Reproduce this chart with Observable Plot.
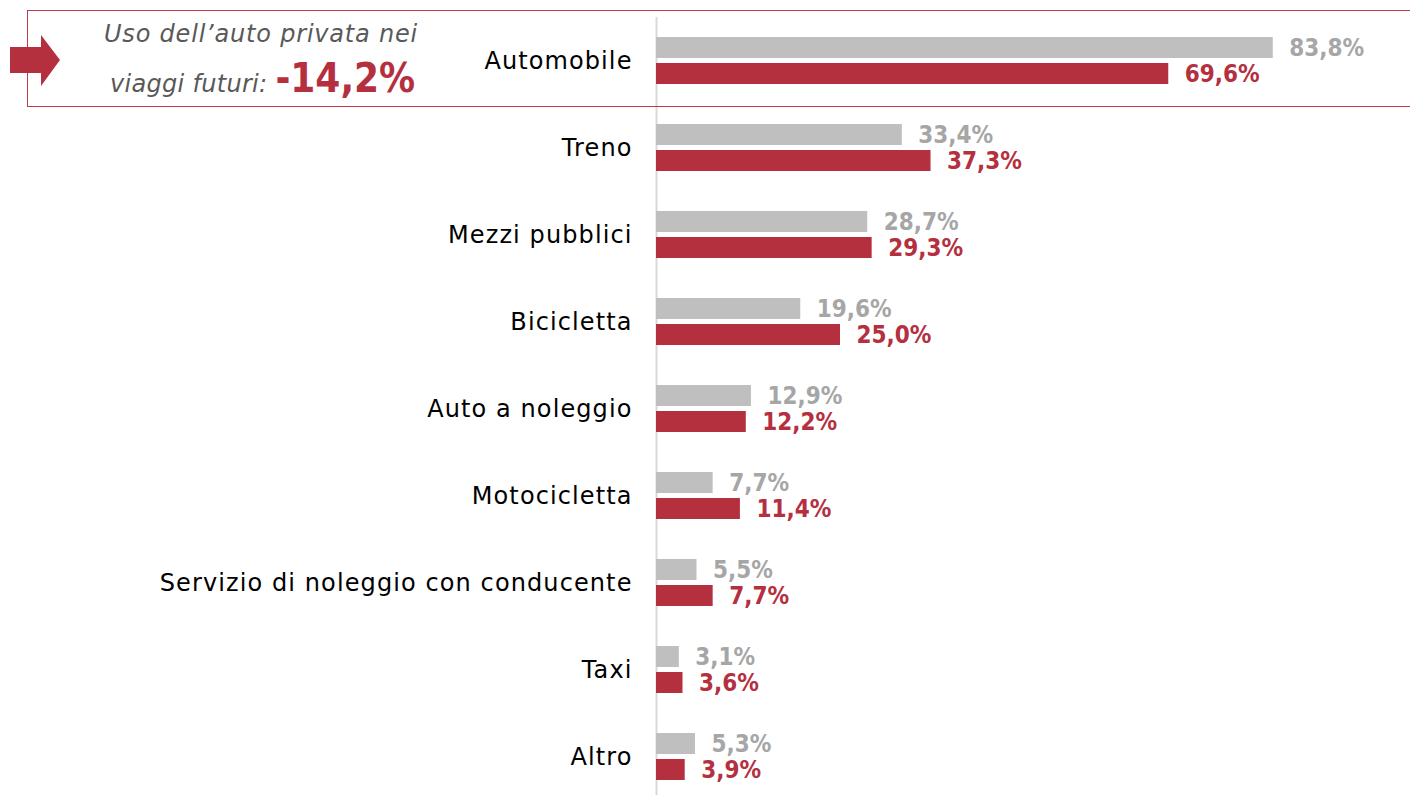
<!DOCTYPE html>
<html>
<head>
<meta charset="utf-8">
<script src="https://cdn.jsdelivr.net/npm/d3@7"></script>
<script src="https://cdn.jsdelivr.net/npm/@observablehq/plot@0.6"></script>
<style>
  html, body { margin: 0; padding: 0; background: #fff; overflow: hidden; }
  body { width: 1410px; height: 795px; position: relative; font-family: "DejaVu Sans", sans-serif; }
  #chart { position: absolute; left: 0; top: 0; }
  #chart svg g[aria-label="fy-axis tick label"] text { letter-spacing: 1.1px; }
  #box { position: absolute; left: 27px; top: 10px; width: 1400px; height: 97px; border: 1.5px solid #c0394a; box-sizing: border-box; }
  #arrow { position: absolute; left: 0; top: 0; }
  .note { position: absolute; font-family: "DejaVu Sans", sans-serif; font-style: italic; color: #595959; font-size: 24px; letter-spacing: 0.8px; white-space: nowrap; line-height: 1; }
  .big { font-style: normal; font-weight: bold; color: #b5303f; font-size: 40px; letter-spacing: 0; font-family: "DejaVu Sans Condensed", "DejaVu Sans", sans-serif; }
</style>
</head>
<body>
<div id="chart"></div>
<div id="box"></div>
<svg id="arrow" width="80" height="110"><polygon points="10,47 41,47 41,35 60,60 41,86 41,73 10,73" fill="#b5303f"/></svg>
<div class="note" id="l1" style="left:104px; top:22px;">Uso dell’auto privata nei</div>
<div class="note" id="l2" style="left:110px; top:58px; letter-spacing: 0.3px;">viaggi futuri: <span class="big">-14,2%</span></div>
<script>
const categories = ["Automobile","Treno","Mezzi pubblici","Bicicletta","Auto a noleggio","Motocicletta","Servizio di noleggio con conducente","Taxi","Altro"];
const series = ["Attuale","Futuro"];
const current = [83.8,33.4,28.7,19.6,12.9,7.7,5.5,3.1,5.3];
const future  = [69.6,37.3,29.3,25.0,12.2,11.4,7.7,3.6,3.9];
const colors = ["#bfbfbf","#b5303f"];
const labelColors = ["#a6a6a6","#b5303f"];

const data = [];
categories.forEach((c, i) => {
  data.push({category: c, series: series[0], value: current[i]});
  data.push({category: c, series: series[1], value: future[i]});
});
const fmt = v => v.toFixed(1).replace(".", ",") + "%";

const chart = Plot.plot({
  width: 1410,
  height: 795,
  marginLeft: 656,
  marginRight: 18,
  marginTop: 17,
  marginBottom: -5,
  style: {fontFamily: "DejaVu Sans, sans-serif", background: "transparent"},
  x: {domain: [0, 100], axis: null},
  y: {domain: series, axis: null, paddingInner: 0.192, paddingOuter: 0.769},
  fy: {domain: categories, padding: 0, axis: null},
  color: {domain: series, range: colors},
  marks: [
    Plot.axisFy({anchor: "left", tickSize: 0, tickPadding: 24, label: null, fontSize: 24, fill: "#000"}),
    Plot.ruleX([0], {stroke: "#d9d9d9", strokeWidth: 2}),
    Plot.barX(data, {x: "value", y: "series", fy: "category", fill: "series"}),
    Plot.text(data, {
      x: "value", y: "series", fy: "category",
      text: d => fmt(d.value),
      textAnchor: "start", dx: 16,
      fill: d => labelColors[series.indexOf(d.series)],
      fontWeight: "bold", fontSize: 24,
      fontFamily: "DejaVu Sans Condensed, DejaVu Sans, sans-serif"
    })
  ]
});
document.getElementById("chart").appendChild(chart);
</script>
</body>
</html>
